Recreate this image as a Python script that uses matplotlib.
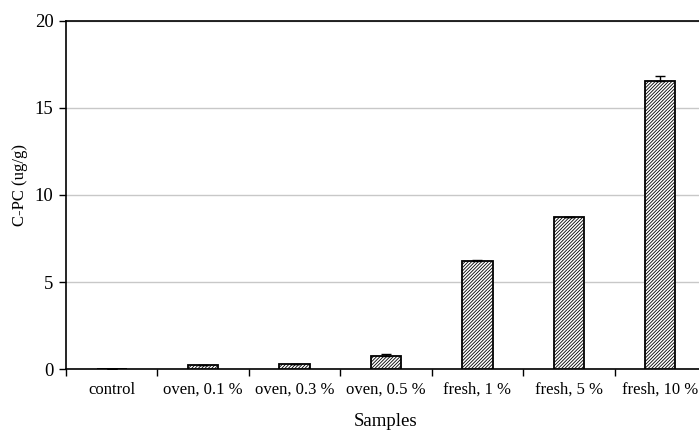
import matplotlib
matplotlib.use("Agg")
import matplotlib.pyplot as plt
import numpy as np

plt.rcParams['font.family'] = ['Liberation Serif', 'DejaVu Serif']
plt.rcParams['hatch.linewidth'] = 0.6

categories = ["control", "oven, 0.1 %", "oven, 0.3 %", "oven, 0.5 %",
              "fresh, 1 %", "fresh, 5 %", "fresh, 10 %"]
cpc_values = [0.0, 0.23, 0.32, 0.76, 6.2, 8.75, 16.55]
cpc_errors = [0.0, 0.0, 0.0, 0.12, 0.05, 0.0, 0.25]
y_ticks = [0, 5, 10, 15, 20]

fig = plt.figure(figsize=(6.99, 4.32), dpi=100)
ax = fig.add_axes([66 / 699, (432 - 369.3) / 432, 640 / 699, (369.3 - 20.7) / 432])

x = np.arange(len(categories))
ax.bar(x, cpc_values, width=0.33, color="white", edgecolor="black",
       linewidth=1.3, hatch="//////////", zorder=3)
ax.errorbar(x, cpc_values, yerr=[np.zeros(len(cpc_errors)), cpc_errors],
            fmt="none", ecolor="black", elinewidth=1, capsize=3.5,
            capthick=1, zorder=4)

ax.set_xlim(-0.5, len(categories) - 0.5)
ax.set_ylim(0, 20)
ax.set_yticks(y_ticks)
ax.set_xticks(x)
ax.set_xticklabels(categories, fontsize=12)
for lbl in ax.get_xticklabels():
    lbl.set_va("baseline")
ax.set_xticks(np.arange(-0.5, len(categories), 1.0), minor=True)
ax.tick_params(axis="x", which="major", length=0, pad=17.5)
ax.tick_params(axis="x", which="minor", length=5, width=1, direction="out")
ax.tick_params(axis="y", length=5, width=1, direction="out", labelsize=13.5, pad=4)

ax.yaxis.grid(True, color="#c8c8c8", linewidth=1, zorder=0)
ax.set_axisbelow(True)
for s in ["left", "bottom", "top"]:
    ax.spines[s].set_color("black")
    ax.spines[s].set_linewidth(1.2)
ax.spines["right"].set_visible(False)

ax.set_ylabel("C-PC (ug/g)", fontsize=12)
ax.set_xlabel("Samples", fontsize=13.5)

# place axis titles in figure pixel coordinates
to_ax = ax.transAxes.inverted()
lx, ly = to_ax.transform(fig.transFigure.transform((20.5 / 699, 1 - 185 / 432)))
ax.yaxis.set_label_coords(lx, ly)
ax.yaxis.label.set_va("center")
sx, sy = to_ax.transform(fig.transFigure.transform((386 / 699, 1 - 422 / 432)))
ax.xaxis.set_label_coords(sx, sy)
ax.xaxis.label.set_va("center")

fig.savefig("out.png", dpi=100)
